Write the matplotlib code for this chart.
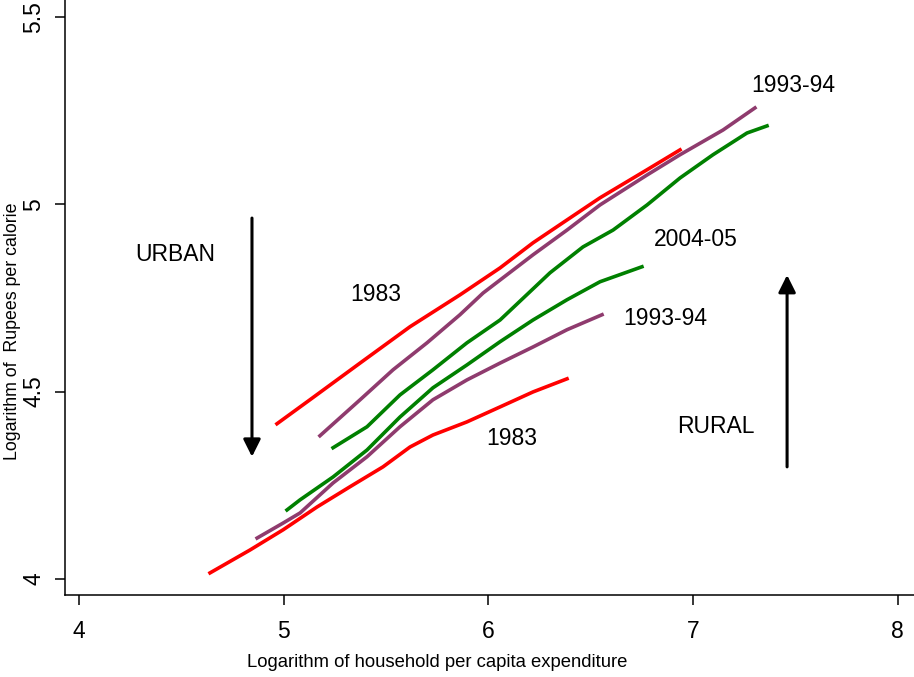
import matplotlib
matplotlib.use("Agg")
from matplotlib import pyplot as plt

plt.rcParams['font.family'] = ['Liberation Sans', 'DejaVu Sans']

# urban curves
urban_1983_x = [4.967, 5.128, 5.373, 5.617, 5.861, 6.057, 6.218, 6.384, 6.545, 6.775, 6.936]
urban_1983_y = [4.414, 4.478, 4.576, 4.673, 4.758, 4.830, 4.897, 4.958, 5.017, 5.092, 5.145]

urban_1993_x = [5.177, 5.373, 5.534, 5.700, 5.861, 5.974, 6.218, 6.384, 6.545, 6.775, 6.936, 7.146, 7.302]
urban_1993_y = [4.382, 4.478, 4.558, 4.630, 4.705, 4.763, 4.865, 4.931, 4.998, 5.078, 5.132, 5.198, 5.257]

urban_2004_x = [5.241, 5.407, 5.568, 5.729, 5.895, 6.057, 6.301, 6.462, 6.609, 6.775, 6.936, 7.097, 7.263, 7.361]
urban_2004_y = [4.350, 4.406, 4.491, 4.558, 4.630, 4.691, 4.817, 4.886, 4.931, 4.998, 5.070, 5.132, 5.190, 5.209]

# rural curves
rural_1983_x = [4.640, 4.835, 4.997, 5.163, 5.324, 5.485, 5.617, 5.729, 5.895, 6.057, 6.218, 6.384]
rural_1983_y = [4.016, 4.077, 4.131, 4.192, 4.246, 4.299, 4.352, 4.384, 4.419, 4.459, 4.499, 4.534]

rural_1993_x = [4.870, 4.997, 5.080, 5.241, 5.407, 5.568, 5.729, 5.895, 6.057, 6.218, 6.384, 6.555]
rural_1993_y = [4.109, 4.149, 4.176, 4.256, 4.326, 4.406, 4.478, 4.531, 4.576, 4.619, 4.665, 4.705]

rural_2004_x = [5.016, 5.080, 5.241, 5.407, 5.568, 5.729, 5.895, 6.057, 6.218, 6.384, 6.545, 6.750]
rural_2004_y = [4.184, 4.211, 4.272, 4.344, 4.432, 4.510, 4.571, 4.633, 4.691, 4.745, 4.793, 4.833]

x_ticks = [4, 5, 6, 7, 8]
y_ticks = [4, 4.5, 5, 5.5]
y_tick_labels = ['4', '4.5', '5', '5.5']

RED = '#ff0000'
PURPLE = '#8f3b6e'
GREEN = '#008000'

fig = plt.figure(figsize=(9.14, 6.77), dpi=100)
ax = fig.add_axes([65 / 914, 82 / 677, 849 / 914, 595 / 677])

lw = 2.6
ax.plot(urban_1983_x, urban_1983_y, color=RED, lw=lw)
ax.plot(urban_1993_x, urban_1993_y, color=PURPLE, lw=lw)
ax.plot(urban_2004_x, urban_2004_y, color=GREEN, lw=lw)
ax.plot(rural_1983_x, rural_1983_y, color=RED, lw=lw)
ax.plot(rural_1993_x, rural_1993_y, color=PURPLE, lw=lw)
ax.plot(rural_2004_x, rural_2004_y, color=GREEN, lw=lw)

fs = 16.5
ax.text(4.469, 4.865, 'URBAN', fontsize=fs, ha='center', va='center')
ax.text(5.451, 4.758, '1983', fontsize=fs, ha='center', va='center')
ax.text(7.488, 5.316, '1993-94', fontsize=fs, ha='center', va='center')
ax.text(7.014, 4.905, '2004-05', fontsize=fs, ha='center', va='center')
ax.text(6.863, 4.694, '1993-94', fontsize=fs, ha='center', va='center')
ax.text(6.115, 4.374, '1983', fontsize=fs, ha='center', va='center')
ax.text(7.112, 4.408, 'RURAL', fontsize=fs, ha='center', va='center')

arrow = dict(arrowstyle='-|>', lw=2.2, color='black', mutation_scale=26, shrinkA=0, shrinkB=0)
ax.annotate('', xy=(4.845, 4.326), xytext=(4.845, 4.963), arrowprops=arrow)
ax.annotate('', xy=(7.459, 4.811), xytext=(7.459, 4.299), arrowprops=arrow)

ax.set_xlim(3.9316, 8.079)
ax.set_ylim(3.957, 5.545)
ax.spines['top'].set_visible(False)
ax.spines['right'].set_visible(False)
for s in ['left', 'bottom']:
    ax.spines[s].set_linewidth(1.1)

ax.set_xticks(x_ticks)
ax.set_xticklabels([str(t) for t in x_ticks])
ax.set_yticks(y_ticks)
ax.set_yticklabels(y_tick_labels, rotation=90, va='center')
ax.tick_params(axis='both', length=7, width=1.1, labelsize=16.5)
ax.tick_params(axis='y', pad=7)
ax.tick_params(axis='x', pad=11)

ax.set_xlabel('Logarithm of household per capita expenditure', fontsize=13.3, va='center')
ax.set_ylabel('Logarithm of  Rupees per calorie', fontsize=12.8, va='center')
ax.xaxis.set_label_coords(0.438, -0.113)
ax.yaxis.set_label_coords(-0.0624, 0.443)

fig.savefig('out.png', dpi=100)
